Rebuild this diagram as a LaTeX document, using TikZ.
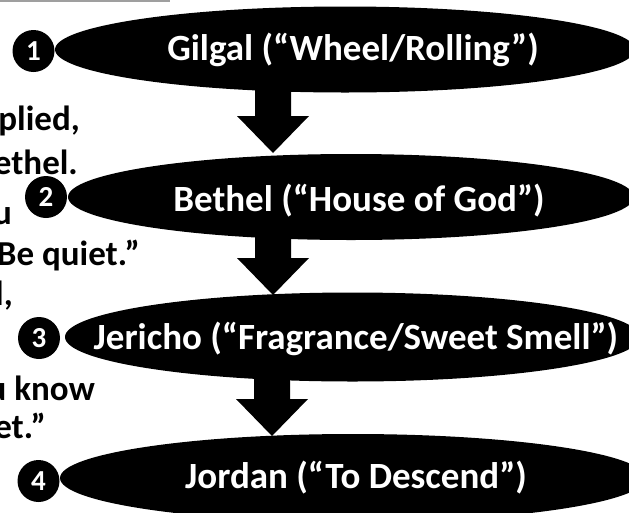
\documentclass[tikz,border=0pt]{standalone}
\usepackage{fontspec}
\setmainfont{Carlito}
\usetikzlibrary{shapes.geometric,calc}
\tikzset{
  blob/.style={ellipse, fill=black, draw=none, inner sep=0pt},
  etext/.style={text=white, font=\fontsize{37}{40}\selectfont\bfseries, inner sep=0pt},
  numdot/.style={circle, fill=black, minimum size=42pt, inner sep=0pt, text=white, font=\fontsize{29}{32}\selectfont\bfseries},
  lefttext/.style={anchor=base east, inner sep=0pt, font=\fontsize{35}{38}\selectfont\bfseries, text=black},
  blockarrow/.style={fill=black, draw=none}
}
\newcommand{\downblock}[2]{% #1 = shaft top coordinate name, #2 = tip coordinate name
  \fill[blockarrow] ($(#1)+(-18,0)$) -- ($(#1)+(18,0)$) -- ($(#2)+(18,-37)$) -- ($(#2)+(36,-37)$)
    -- (#2) -- ($(#2)+(-36,-37)$) -- ($(#2)+(-18,-37)$) -- cycle;}
\begin{document}
\begin{tikzpicture}[x=1pt,y=-1pt]
\useasboundingbox (0,0) rectangle (629,512);
\fill[white] (0,0) rectangle (629,512);
% top line remnant
\coordinate (tl1) at (0,1);
\coordinate (tl2) at (170,1);
\draw[gray!75, line width=2pt] (tl1) -- (tl2);
% left text fragments
\node[lefttext] (l1) at (80,130) {plied,};
\node[lefttext] (l2) at (78,174) {ethel.};
\node[lefttext] (l3) at (12,224) {u};
\node[lefttext] (l4) at (140,265) {Be quiet.”};
\node[lefttext] (l5) at (13,305) {l,};
\node[lefttext] (l6) at (95,400) {u know};
\node[lefttext] (l7) at (46,438) {et.”};
% arrows
\coordinate (a1s) at (273,80);  \coordinate (a1t) at (273,153);
\coordinate (a2s) at (273,225); \coordinate (a2t) at (273,295);
\coordinate (a3s) at (272,370); \coordinate (a3t) at (272,436);
\downblock{a1s}{a1t}
\downblock{a2s}{a2t}
\downblock{a3s}{a3t}
% ellipses
\node[blob, minimum width=580pt, minimum height=86pt] (e1) at (345,49.5) {};
\node[blob, minimum width=566pt, minimum height=86pt] (e2) at (351,197) {};
\node[blob, minimum width=575pt, minimum height=89pt] (e3) at (352.5,337) {};
\node[blob, minimum width=586pt, minimum height=88pt] (e4) at (353,478) {};
% labels
\node[etext] (t1) at (353,50) {Gilgal (“Wheel/Rolling”)};
\node[etext] (t2) at (359,201) {Bethel (“House of God”)};
\node[etext] (t3) at (356,338.5) {Jericho (“Fragrance/Sweet Smell”)};
\node[etext] (t4) at (356,478) {Jordan (“To Descend”)};
% number dots
\node[numdot] (n1) at (33.5,51) {1};
\node[numdot] (n2) at (46,197) {2};
\node[numdot] (n3) at (39,338) {3};
\node[numdot] (n4) at (38.5,481) {4};
\end{tikzpicture}
\end{document}
